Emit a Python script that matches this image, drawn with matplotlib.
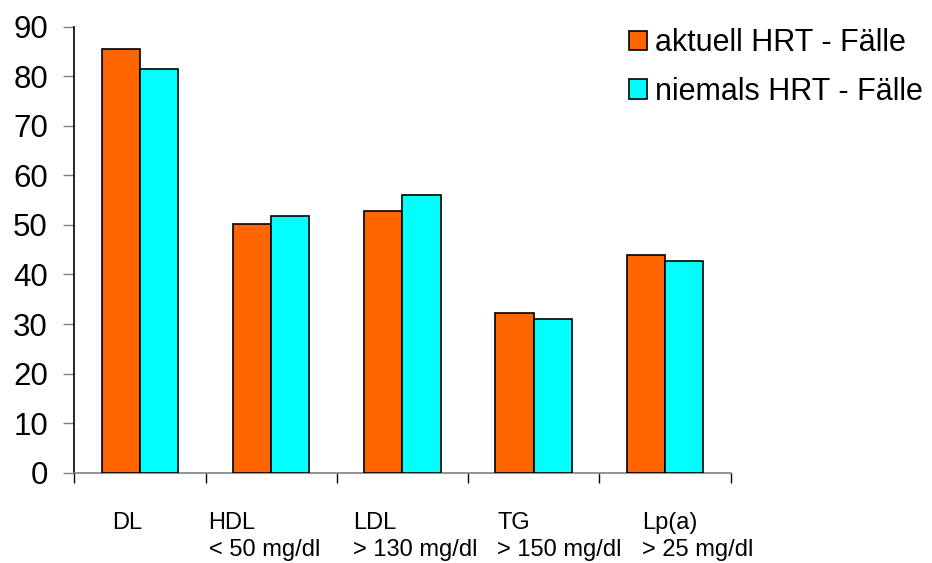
import matplotlib
matplotlib.use("Agg")
import matplotlib.pyplot as plt
import matplotlib.transforms as mtransforms
import numpy as np

plt.rcParams['font.family'] = ['Liberation Sans', 'DejaVu Sans']

categories = ["DL", "HDL\n< 50 mg/dl", "LDL\n> 130 mg/dl", "TG\n> 150 mg/dl", "Lp(a)\n> 25 mg/dl"]
series_names = ["aktuell HRT - Fälle", "niemals HRT - Fälle"]
aktuell = [85.6, 50.1, 52.8, 32.3, 43.9]
niemals = [81.5, 51.7, 56.0, 31.0, 42.7]
yticks = [0, 10, 20, 30, 40, 50, 60, 70, 80, 90]

# layout (label left-edge offsets relative to category centre, in category units)
label_offsets = [-0.212, -0.477, -0.378, -0.276, -0.176]

W, H = 932, 563
fig = plt.figure(figsize=(W / 100, H / 100), dpi=100)
ax = fig.add_axes([74.3 / W, (H - 472.7) / H, (730.5 - 74.3) / W, 446 / H])

x = np.arange(len(categories))
bw = 0.292
ax.bar(x - bw / 2, aktuell, bw, color="#FF6600", edgecolor="black", linewidth=1.2,
       label=series_names[0], zorder=3)
ax.bar(x + bw / 2, niemals, bw, color="#00FFFF", edgecolor="black", linewidth=1.2,
       label=series_names[1], zorder=3)

ax.set_xlim(-0.5, len(categories) - 0.5)
ax.set_ylim(0, 90)
ax.set_yticks(yticks)
ax.set_yticklabels([str(v) for v in yticks], fontsize=22.5)
ax.tick_params(axis='y', direction='out', length=8, width=1.0, color='#808080', pad=11)

ax.set_xticks(np.arange(len(categories) + 1) - 0.5)
ax.set_xticklabels([])
ax.tick_params(axis='x', direction='out', length=7.5, width=1.0, color='black')

for s in ['top', 'right']:
    ax.spines[s].set_visible(False)
ax.spines['left'].set_color('black')
ax.spines['left'].set_linewidth(1.2)
ax.spines['bottom'].set_color('#808080')
ax.spines['bottom'].set_linewidth(1.2)

trans = mtransforms.blended_transform_factory(ax.transData, ax.transAxes)
for i, lab in enumerate(categories):
    ax.text(i + label_offsets[i], -0.089, lab, transform=trans, ha='left', va='top',
            fontsize=17, linespacing=1.3, multialignment='left')

leg = fig.legend(loc='upper left', bbox_to_anchor=(629 / W, 1 - 28 / H),
                 frameon=False, fontsize=22, handlelength=0.6, handleheight=0.6,
                 handletextpad=0.25, labelspacing=0.62, borderaxespad=0, borderpad=0)
for p in leg.get_patches():
    p.set_linewidth(1.2)

fig.savefig("out.png", dpi=100)
